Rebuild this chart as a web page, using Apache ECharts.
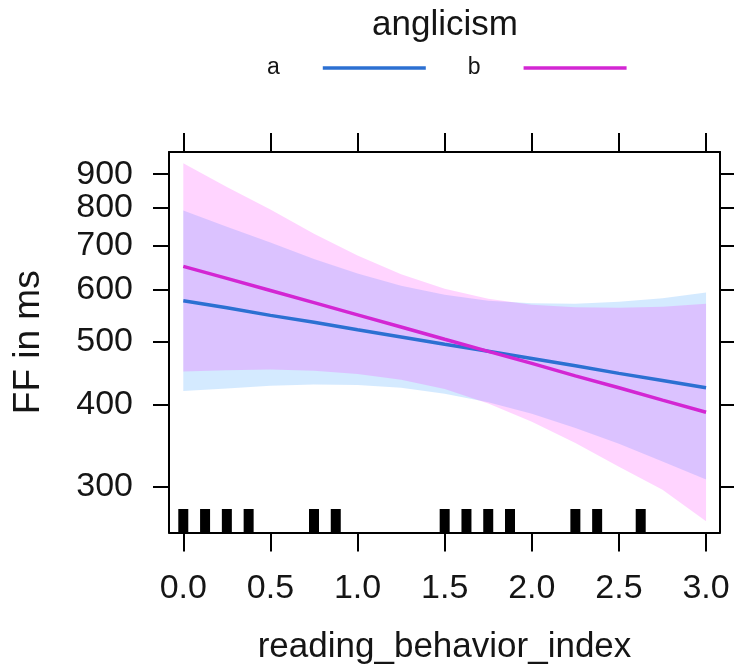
<!DOCTYPE html>
<html>
<head>
<meta charset="utf-8">
<script src="https://cdn.jsdelivr.net/npm/echarts@6/dist/echarts.min.js"></script>
<style>
  html, body { margin: 0; padding: 0; background: #ffffff; }
  #chart { width: 734px; height: 670px; }
</style>
</head>
<body>
<div id="chart"></div>
<script>
// ---- data ----
const xs     = [0, 0.25, 0.5, 0.75, 1.0, 1.25, 1.5, 1.75, 2.0, 2.25, 2.5, 2.75, 3.0];
const fitA   = [577, 563, 548, 535, 521, 508, 495, 483, 471, 459, 447, 436, 425];
const upperA = [792, 748, 708, 668, 635, 608, 589, 577, 572, 571, 575, 582, 594];
const lowerA = [420, 424, 428, 430, 429, 425, 416, 404, 388, 369, 349, 328, 308];
const fitB   = [651, 624, 598, 573, 549, 526, 504, 483, 463, 443, 425, 407, 390];
const upperB = [935, 860, 795, 730, 676, 633, 602, 581, 569, 564, 563, 565, 571];
const lowerB = [450, 452, 453, 451, 446, 437, 423, 402, 377, 350, 322, 297, 266];
const rugX   = [0, 0.125, 0.25, 0.375, 0.75, 0.875, 1.5, 1.625, 1.75, 1.875, 2.25, 2.375, 2.625];
const xTicks = [0, 0.5, 1.0, 1.5, 2.0, 2.5, 3.0];
const yTicks = [300, 400, 500, 600, 700, 800, 900];
const seriesNames = ['a', 'b'];
const xRange = [-0.082, 3.08];
const yRange = [255.6, 972.8];   // ms, log scale

// ---- helpers ----
const L = Math.log;
const yMin = L(yRange[0]), yMax = L(yRange[1]);
const lineColors = ['#2c70d2', '#d326d3'];
const bandColors = ['rgba(0,128,255,0.17)', 'rgba(255,0,255,0.17)'];
const FONT = '"Liberation Sans", Arial, sans-serif';
const TXT = '#151515';
// y labels are split over two overlaid left axes so that close labels (800/900) are not auto-hidden
const yLabelsEven = yTicks.filter((v, i) => i % 2 === 0).map(L);
const yLabelsOdd  = yTicks.filter((v, i) => i % 2 === 1).map(L);

function bandSeries(upper, lower, color) {
  return {
    type: 'custom',
    silent: true,
    clip: true,
    z: 1,
    data: [[xs[0], L(upper[0])]],
    encode: { x: 0, y: 1 },
    renderItem: function (params, api) {
      const top = upper.map((v, i) => api.coord([xs[i], L(v)]));
      const bot = lower.map((v, i) => api.coord([xs[i], L(v)])).reverse();
      return { type: 'polygon', shape: { points: top.concat(bot) }, style: { fill: color } };
    }
  };
}

function lineSeries(name, fit, color) {
  return {
    name: name,
    type: 'line',
    symbol: 'none',
    showSymbol: false,
    z: 3,
    data: xs.map((x, i) => [x, L(fit[i])]),
    lineStyle: { color: color, width: 3.5 },
    itemStyle: { color: color }
  };
}

const axisLineStyle = { color: '#000', width: 2 };
const yLabelStyle = { show: true, formatter: v => String(Math.round(Math.exp(v))),
                      margin: 36, fontSize: 34, fontFamily: FONT, color: TXT,
                      showMinLabel: true, showMaxLabel: true };

const option = {
  animation: false,
  backgroundColor: '#ffffff',
  grid: { left: 169, right: 14, top: 152, bottom: 137.5, containLabel: false },
  graphic: [{
    type: 'text', x: 445, y: 25,
    style: { text: 'anglicism', font: '35px "Liberation Sans"', fill: TXT, align: 'center', verticalAlign: 'middle' }
  }],
  legend: {
    data: seriesNames,
    left: 267, top: 56.5, padding: 0,
    align: 'right',
    icon: 'rect',
    itemWidth: 103, itemHeight: 3.5, itemGap: 42,
    textStyle: { fontSize: 23, fontFamily: FONT, color: TXT, padding: [0, 38, 0, 0] }
  },
  xAxis: [{
    type: 'value', gridIndex: 0, position: 'bottom', min: xRange[0], max: xRange[1],
    axisLine: { show: true, onZero: false, lineStyle: axisLineStyle },
    axisTick: { show: true, inside: false, length: 19, customValues: xTicks, lineStyle: axisLineStyle },
    axisLabel: { show: true, customValues: xTicks, formatter: v => Number(v).toFixed(1), margin: 39,
                 showMinLabel: true, showMaxLabel: true,
                 fontSize: 34, fontFamily: FONT, color: TXT },
    splitLine: { show: false },
    name: 'reading_behavior_index', nameLocation: 'middle', nameGap: 97,
    nameTextStyle: { fontSize: 35, fontFamily: FONT, color: TXT }
  }, {
    type: 'value', gridIndex: 0, position: 'top', min: xRange[0], max: xRange[1],
    axisLine: { show: true, onZero: false, lineStyle: axisLineStyle },
    axisTick: { show: true, inside: false, length: 19, customValues: xTicks, lineStyle: axisLineStyle },
    axisLabel: { show: false },
    splitLine: { show: false }
  }],
  yAxis: [{
    type: 'value', gridIndex: 0, position: 'left', min: yMin, max: yMax,
    axisLine: { show: true, onZero: false, lineStyle: axisLineStyle },
    axisTick: { show: true, inside: false, length: 16, customValues: yTicks.map(L), lineStyle: axisLineStyle },
    axisLabel: Object.assign({ customValues: yLabelsEven }, yLabelStyle),
    splitLine: { show: false },
    name: 'FF in ms', nameLocation: 'middle', nameGap: 121.5, nameRotate: 90,
    nameTextStyle: { fontSize: 37, fontFamily: FONT, color: TXT }
  }, {
    type: 'value', gridIndex: 0, position: 'right', min: yMin, max: yMax,
    axisLine: { show: true, onZero: false, lineStyle: axisLineStyle },
    axisTick: { show: true, inside: false, length: 16, customValues: yTicks.map(L), lineStyle: axisLineStyle },
    axisLabel: { show: false },
    splitLine: { show: false }
  }, {
    type: 'value', gridIndex: 0, position: 'left', offset: 0, min: yMin, max: yMax,
    axisLine: { show: false, onZero: false },
    axisTick: { show: false },
    axisLabel: Object.assign({ customValues: yLabelsOdd }, yLabelStyle),
    splitLine: { show: false }
  }],
  series: [
    bandSeries(upperA, lowerA, bandColors[0]),
    bandSeries(upperB, lowerB, bandColors[1]),
    lineSeries(seriesNames[0], fitA, lineColors[0]),
    lineSeries(seriesNames[1], fitB, lineColors[1]),
    {
      type: 'custom',
      silent: true,
      z: 4,
      data: rugX.map(x => [x, yMin]),
      encode: { x: 0, y: 1 },
      renderItem: function (params, api) {
        const p = api.coord([api.value(0), api.value(1)]);
        return { type: 'rect', shape: { x: p[0] - 5, y: p[1] - 23.5, width: 10, height: 23.5 }, style: { fill: '#000' } };
      }
    }
  ]
};

const chart = echarts.init(document.getElementById('chart'), null, { renderer: 'canvas' });
chart.setOption(option);
</script>
</body>
</html>
